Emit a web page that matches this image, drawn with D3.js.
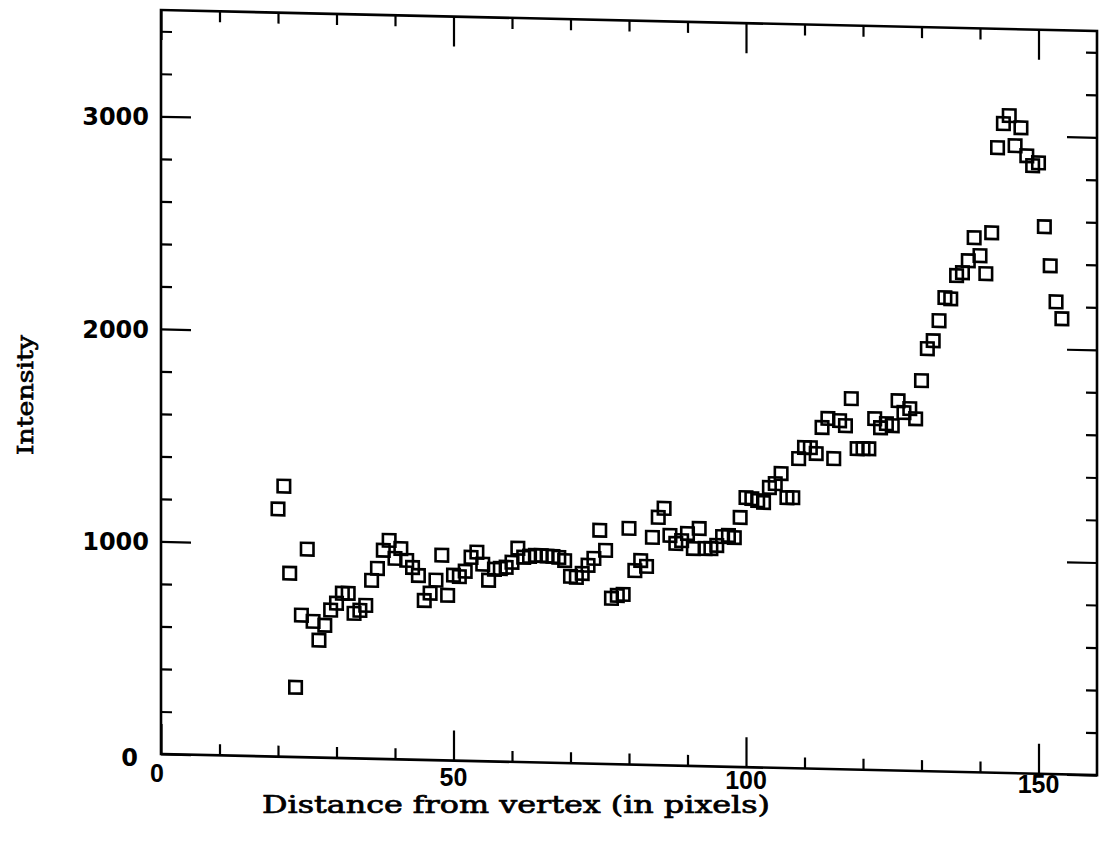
<!DOCTYPE html>
<html><head><meta charset="utf-8">
<script src="https://cdn.jsdelivr.net/npm/d3@7"></script>
<style>body{margin:0;background:#fff}svg{display:block}</style>
</head><body>
<svg id="c" width="1099" height="848"></svg>
<script>
// ---- data ----
const distances = [20,21,22,23,24,25,26,27,28,29,30,31,32,33,34,35,36,37,38,39,
  40,41,42,43,44,45,46,47,48,49,50,51,52,53,54,55,56,57,58,59,
  60,61,62,63,64,65,66,67,68,69,70,71,72,73,74,75,76,77,78,79,
  80,81,82,83,84,85,86,87,88,89,90,91,92,93,94,95,96,97,98,99,
  100,101,102,103,104,105,106,107,108,109,110,111,112,113,114,115,116,117,118,119,
  120,121,122,123,124,125,126,127,128,129,130,131,132,133,134,135,136,137,138,139,
  140,141,142,143,144,145,146,147,148,149,150,151,152,153,154];
const intensities = [1165,1273,864,328,668,979,640,552,623,695,728,775,776,682,697,721,839,896,982,1029,
  945,992,937,904,867,750,785,847,965,777,872,866,892,958,983,927,852,904,909,915,
  939,1006,964,969,974,974,972,971,967,953,879,875,894,933,966,1099,1005,780,794,800,
  1111,913,961,934,1071,1166,1209,1082,1045,1059,1093,1023,1118,1024,1025,1040,1082,1088,1079,1174,
  1268,1264,1255,1247,1318,1337,1385,1272,1273,1457,1510,1510,1483,1606,1649,1461,1640,1617,1745,1510,
  1511,1511,1653,1611,1631,1622,1740,1685,1704,1657,1837,1988,2026,2121,2230,2225,2335,2349,2406,2515,
  2431,2347,2540,2941,3055,3093,2952,3037,2906,2860,2874,2574,2391,2222,2143];
const xMajorTicks = [0,50,100,150];
const xMinorTicks = [10,20,30,40,60,70,80,90,110,120,130,140];
const yMajorTicks = [0,1000,2000,3000];
const yMinorTicks = [200,400,600,800,1200,1400,1600,1800,2200,2400,2600,2800,3200,3400];
const xTickLabels = ["0","50","100","150"];
const yTickLabels = ["0","1000","2000","3000"];
const xTitle = "Distance from vertex (in pixels)";
const yTitle = "Intensity";

// ---- layout ----
const plotLeft = 161, plotTop = 10, W = 936, H = 744;
const skewDeg = 1.29;
const svg = d3.select('#c');
svg.append('rect').attr('width',1099).attr('height',848).attr('fill','#fff');

const x = d3.scaleLinear().domain([0,160]).range([0,W]);
const y = d3.scaleLinear().domain([0,3500]).range([H,0]);

const g = svg.append('g').attr('transform', `translate(${plotLeft},${plotTop}) skewY(${skewDeg})`);

function styleAxis(sel){
  sel.select('.domain').remove();
  sel.selectAll('.tick line').attr('stroke','#000').attr('stroke-width',2.2);
  sel.selectAll('.tick text').remove();
}
const minorLen = 11, majorLen = 30;
// bottom
g.append('g').attr('transform',`translate(0,${H})`).call(d3.axisBottom(x).tickValues(xMinorTicks).tickSize(-minorLen)).call(styleAxis);
g.append('g').attr('transform',`translate(0,${H})`).call(d3.axisBottom(x).tickValues(xMajorTicks).tickSize(-majorLen)).call(styleAxis);
// top
g.append('g').call(d3.axisTop(x).tickValues(xMinorTicks).tickSize(-minorLen)).call(styleAxis);
g.append('g').call(d3.axisTop(x).tickValues(xMajorTicks).tickSize(-majorLen)).call(styleAxis);
// left
g.append('g').call(d3.axisLeft(y).tickValues(yMinorTicks).tickSize(-minorLen)).call(styleAxis);
g.append('g').call(d3.axisLeft(y).tickValues(yMajorTicks).tickSize(-majorLen)).call(styleAxis);
// right
g.append('g').attr('transform',`translate(${W},0)`).call(d3.axisRight(y).tickValues(yMinorTicks).tickSize(-minorLen)).call(styleAxis);
g.append('g').attr('transform',`translate(${W},0)`).call(d3.axisRight(y).tickValues(yMajorTicks).tickSize(-majorLen)).call(styleAxis);

// frame
g.append('rect').attr('x',0).attr('y',0).attr('width',W).attr('height',H)
  .attr('fill','none').attr('stroke','#000').attr('stroke-width',2.6);

// points: open squares
const data = distances.map((d,i)=>({d, v: intensities[i]}));
const s = 12.5;
g.append('g').selectAll('rect').data(data).join('rect')
  .attr('x', p => x(p.d) - s/2).attr('y', p => y(p.v) - s/2)
  .attr('width', s).attr('height', s)
  .attr('fill','none').attr('stroke','#000').attr('stroke-width',2.6);

// tick labels (not skewed)
svg.append('g').selectAll('text').data(xMajorTicks).join('text')
  .attr('x', v => plotLeft + x(v) - (v===0?4:0))
  .attr('y', v => plotTop + H + 28 + x(v)*0.012)
  .attr('text-anchor','middle')
  .attr('font-family','Liberation Sans, Arial, sans-serif')
  .attr('font-weight','bold').attr('font-size',25)
  .text((v,i) => xTickLabels[i]);

svg.append('g').selectAll('text').data(yMajorTicks).join('text')
  .attr('x', v => v===0 ? 138 : 149)
  .attr('y', v => plotTop + y(v) + 9 + (v===0?3:0))
  .attr('text-anchor','end')
  .attr('font-family','DejaVu Sans, sans-serif')
  .attr('font-weight','bold').attr('font-size',24)
  .text((v,i) => yTickLabels[i]);

// axis titles
svg.append('text').attr('x',516).attr('y',813).attr('text-anchor','middle')
  .attr('font-family','DejaVu Serif, serif').attr('font-size',24)
  .attr('stroke','#000').attr('stroke-width',0.7)
  .attr('textLength',508).attr('lengthAdjust','spacingAndGlyphs')
  .text(xTitle);
svg.append('text').attr('transform','translate(33,395) rotate(-90)').attr('text-anchor','middle')
  .attr('font-family','DejaVu Serif, serif').attr('font-size',23)
  .attr('stroke','#000').attr('stroke-width',0.7)
  .attr('textLength',120).attr('lengthAdjust','spacingAndGlyphs')
  .text(yTitle);
</script>
</body></html>
